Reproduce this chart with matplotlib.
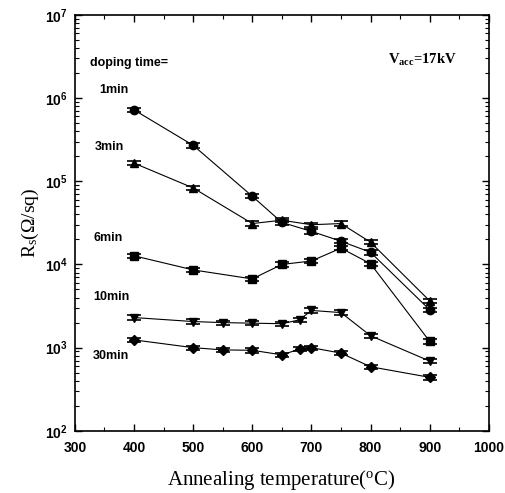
import matplotlib
matplotlib.use("Agg")
import matplotlib.pyplot as plt
from matplotlib.ticker import LogLocator, NullFormatter, MultipleLocator

# ─── data ─────────────────────────────────────────────────────────────────────
temp_a = [400, 500, 600, 650, 700, 750, 800, 900]
temp_b = [400, 500, 550, 600, 650, 680, 700, 750, 800, 900]

rs_1min = [7.2e5, 2.7e5, 6.6e4, 3.2e4, 2.5e4, 1.9e4, 1.4e4, 2.85e3]
rs_3min = [1.65e5, 8.3e4, 3.1e4, 3.4e4, 3.0e4, 3.1e4, 1.85e4, 3.65e3]
rs_6min = [1.27e4, 8.6e3, 6.7e3, 1.0e4, 1.1e4, 1.57e4, 1.02e4, 1.19e3]
rs_10min = [2.3e3, 2.06e3, 2.0e3, 1.97e3, 1.94e3, 2.16e3, 2.8e3, 2.64e3, 1.39e3, 6.9e2]
rs_30min = [1.24e3, 1.0e3, 9.4e2, 9.3e2, 8.2e2, 9.6e2, 1.0e3, 8.6e2, 5.9e2, 4.4e2]

labels = ["1min", "3min", "6min", "10min", "30min"]
label_x = [342, 334, 331, 331, 331]
label_y = [1.26e6, 2.6e5, 2.09e4, 4.1e3, 7.9e2]
err_frac = 0.06

series = [
    (temp_a, rs_1min, "o"),
    (temp_a, rs_3min, "^"),
    (temp_a, rs_6min, "s"),
    (temp_b, rs_10min, "v"),
    (temp_b, rs_30min, "D"),
]

fig = plt.figure(figsize=(5.06, 4.93), dpi=100)
ax = fig.add_axes([0.148, 0.126, 0.818, 0.844])

for x, y, m in series:
    ms = 5 if m == "D" else 6
    ax.errorbar(x, y, yerr=[v * err_frac for v in y], fmt="-" + m, color="black",
                lw=0.8, ms=ms, capsize=5, elinewidth=0.8, capthick=1.2)

ax.set_yscale("log")
ax.set_xlim(300, 1000)
ax.set_ylim(1e2, 1e7)
ax.xaxis.set_major_locator(MultipleLocator(100))
ax.xaxis.set_minor_locator(MultipleLocator(50))
ax.yaxis.set_major_locator(LogLocator(base=10))
ax.yaxis.set_minor_locator(LogLocator(base=10, subs=range(2, 10)))
ax.yaxis.set_minor_formatter(NullFormatter())
ax.tick_params(which="both", direction="in", top=True, right=True)
ax.tick_params(which="major", length=5, width=1)
ax.tick_params(which="minor", length=3, width=0.8)
ax.tick_params(axis="x", which="major", pad=7)
ax.tick_params(axis="y", which="major", pad=5)
for s in ax.spines.values():
    s.set_linewidth(1.2)

for lab in ax.get_xticklabels() + ax.get_yticklabels():
    lab.set_family("Liberation Sans")
    lab.set_fontsize(10)
    lab.set_fontweight("bold")

ax.set_xlabel("Annealing temperature($\\mathregular{^oC}$)", family="Liberation Serif",
              fontsize=15, labelpad=10)
ax.set_ylabel("R$\\mathregular{_s}$(Ω/sq)", family="Liberation Serif", fontsize=14,
              labelpad=3)

ax.text(326, 2.67e6, "doping time=", family="Liberation Sans", fontsize=9,
        fontweight="bold", va="center")
for lab, lx, ly in zip(labels, label_x, label_y):
    ax.text(lx, ly, lab, family="Liberation Sans", fontsize=9,
            fontweight="bold", va="center")
ax.text(829, 2.9e6, "V$\\mathregular{_{acc}}$=17kV", family="Liberation Serif",
        fontsize=10.5, fontweight="bold", va="center")

fig.savefig("out.png", dpi=100)
